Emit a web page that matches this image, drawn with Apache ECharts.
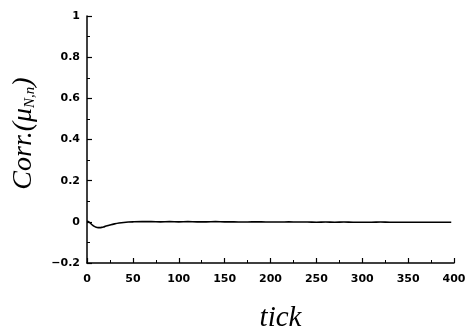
<!DOCTYPE html>
<html><head><meta charset="utf-8">
<script src="https://cdn.jsdelivr.net/npm/echarts@6/dist/echarts.min.js"></script>
<style>html,body{margin:0;padding:0;background:#fff}#c{width:466px;height:329px}</style>
</head><body><div id="c"></div>
<script>
var ticks = [0,2,4,6,8,10,12,14,16,18,20,23,26,30,35,40,45,50,60,70,80,90,100,110,120,130,140,150,160,170,180,190,200,210,220,230,240,250,260,270,280,290,300,310,320,330,340,350,360,370,380,390,397];
var corr = [0.003,0.0,-0.008,-0.016,-0.022,-0.026,-0.028,-0.028,-0.027,-0.025,-0.022,-0.018,-0.014,-0.010,-0.006,-0.003,-0.001,0.000,0.001,0.001,0.000,0.001,0.000,0.001,0.000,0.000,0.001,0.000,0.000,-0.001,0.000,0.000,-0.001,-0.001,0.000,-0.001,-0.001,-0.002,-0.001,-0.002,-0.001,-0.002,-0.002,-0.002,-0.001,-0.002,-0.002,-0.002,-0.002,-0.002,-0.002,-0.002,-0.002];
var xTicks = [0,50,100,150,200,250,300,350,400];
var yTicks = [-0.2,0,0.2,0.4,0.6,0.8,1];

var chart = echarts.init(document.getElementById('c'), null, {renderer:'canvas'});
var lab = {color:'#000', fontFamily:'DejaVu Sans', fontWeight:'bold', fontSize:11};
chart.setOption({
  animation:false,
  grid:{left:87,right:12,top:16,bottom:66,containLabel:false,outerBoundsMode:'none'},
  xAxis:{type:'value',min:0,max:400,interval:50,
    axisLine:{onZero:false,lineStyle:{color:'#000',width:1.5}},
    axisTick:{inside:true,length:5,lineStyle:{color:'#000',width:1.2}},
    minorTick:{show:true,splitNumber:2,length:3,lineStyle:{color:'#000',width:1}},
    splitLine:{show:false},
    axisLabel:Object.assign({margin:11,formatter:function(v){return xTicks.indexOf(v)>=0?String(v):'';}},lab),
    name:'tick',nameLocation:'middle',nameGap:41,
    nameTextStyle:{fontFamily:'Liberation Serif, Times New Roman',fontStyle:'italic',fontSize:29,color:'#000',padding:[0,0,0,20]}
  },
  yAxis:{type:'value',min:-0.2,max:1,interval:0.2,
    axisLine:{show:true,onZero:false,lineStyle:{color:'#000',width:1.5}},
    axisTick:{show:true,inside:true,length:5,lineStyle:{color:'#000',width:1.2}},
    minorTick:{show:true,splitNumber:2,length:3,lineStyle:{color:'#000',width:1}},
    splitLine:{show:false},
    axisLabel:Object.assign({margin:7,formatter:function(v){var r=Math.round(v*10)/10;return yTicks.indexOf(r)>=0?(r<0?'\u2212'+Math.abs(r):String(r)):'';}},lab),
    name:'{a|Corr.(\u03bc}{b|N,n}{a|)}',nameLocation:'middle',nameGap:49,nameRotate:90,
    nameTextStyle:{color:'#000',padding:[0,0,0,12],rich:{
      a:{fontFamily:'Liberation Serif, Times New Roman',fontStyle:'italic',fontSize:28,color:'#000'},
      b:{fontFamily:'Liberation Serif, Times New Roman',fontStyle:'italic',fontSize:15,color:'#000',padding:[14,0,0,0]}
    }}
  },
  series:[{type:'line',data:ticks.map(function(t,i){return [t,corr[i]];}),
    showSymbol:false,smooth:0.3,lineStyle:{color:'#000',width:1.6}}]
});
</script></body></html>
